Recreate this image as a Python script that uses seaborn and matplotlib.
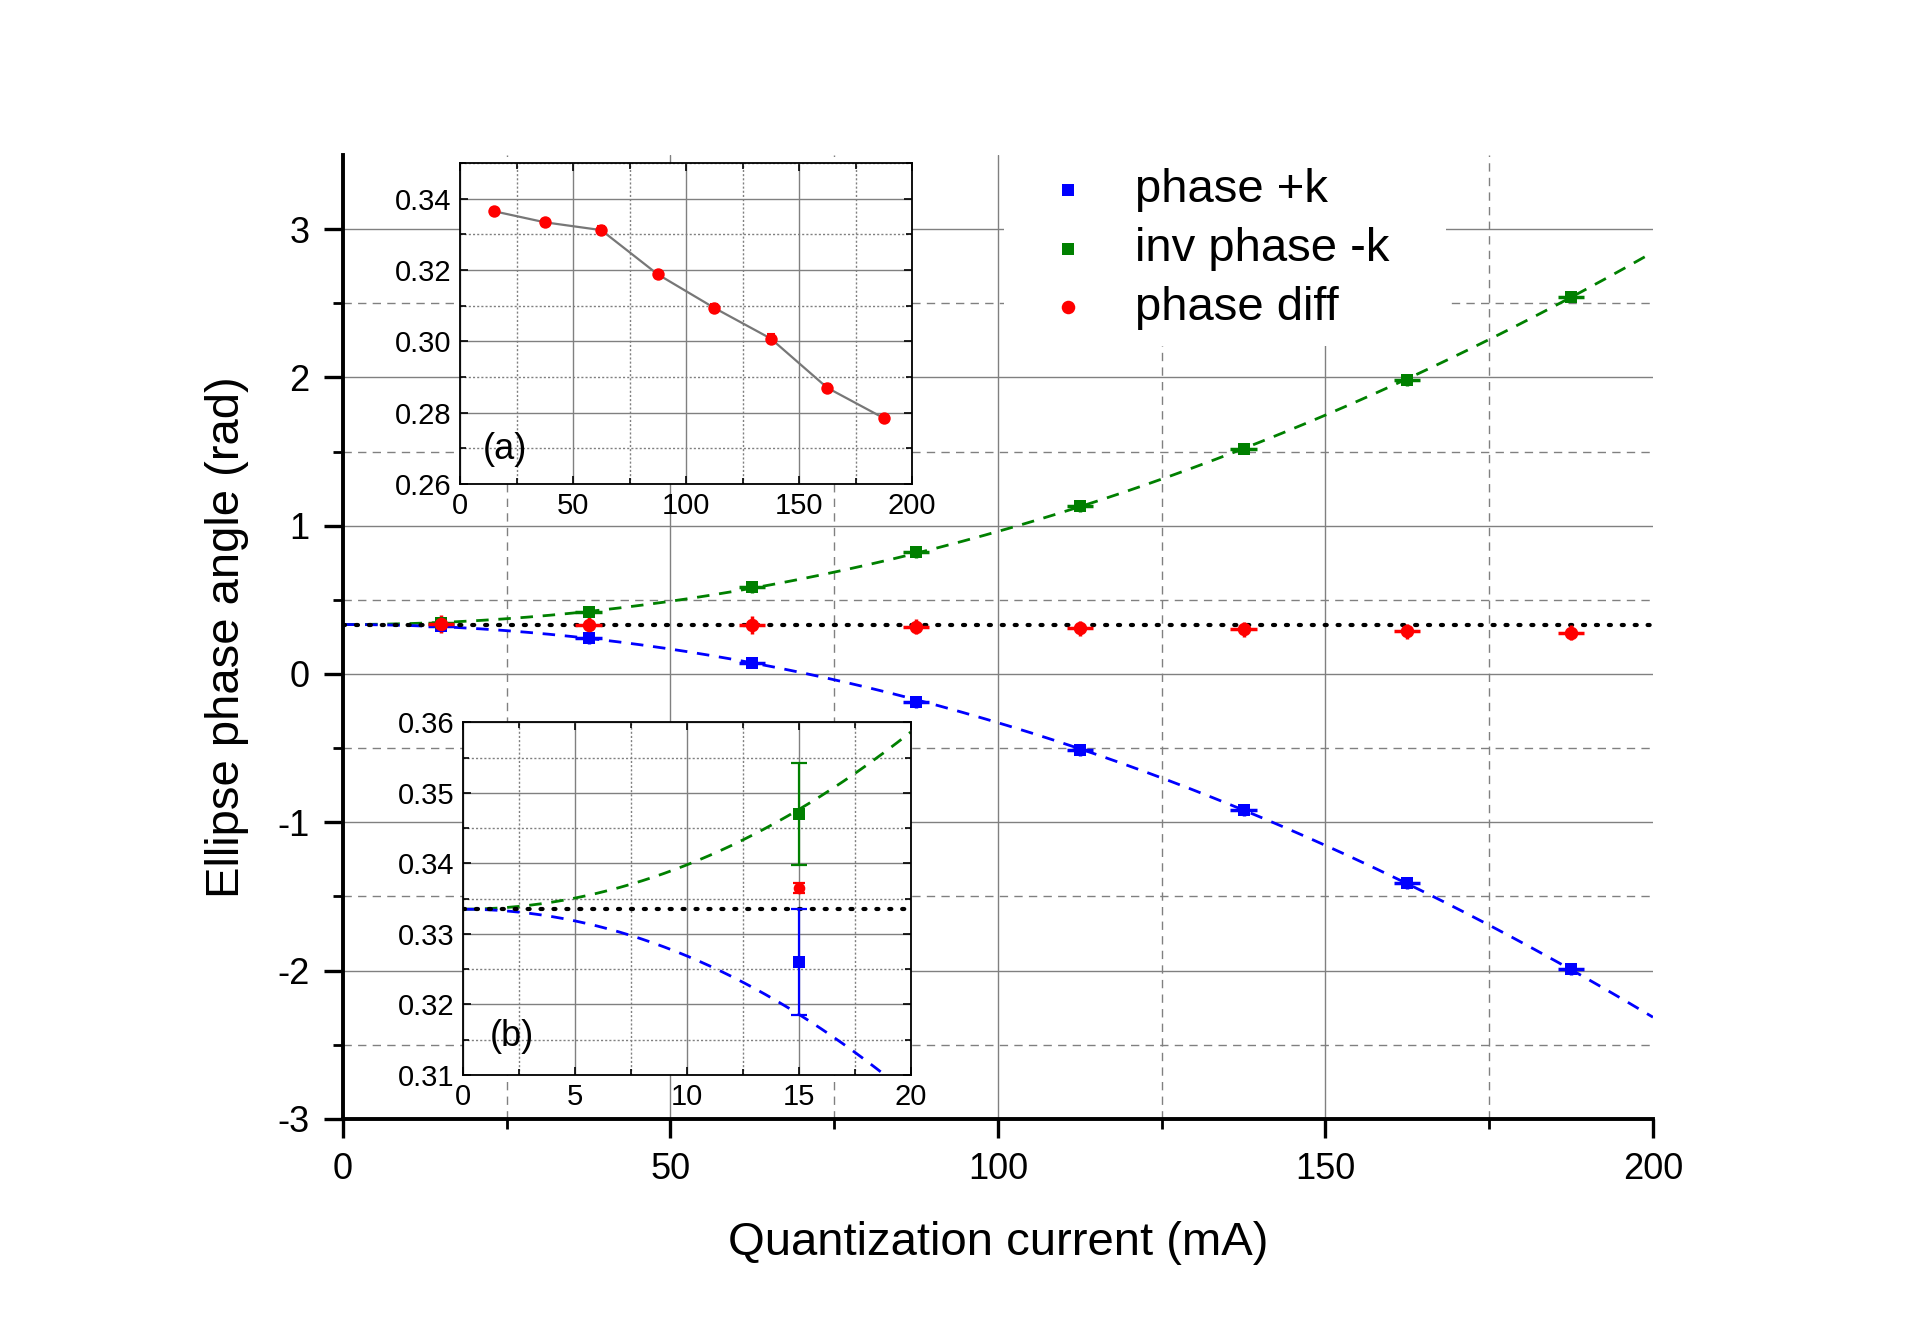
import numpy as np
import pandas as pd
import matplotlib
matplotlib.use("Agg")
import matplotlib.pyplot as plt
import seaborn as sns
from matplotlib.ticker import FixedLocator, FormatStrFormatter

# ---------------- data ----------------
current = [15, 37.5, 62.5, 87.5, 112.5, 137.5, 162.5, 187.5]
phase_pk = [0.326, 0.24, 0.077, -0.19, -0.51, -0.92, -1.41, -1.99]
inv_phase_mk = [0.347, 0.42, 0.585, 0.82, 1.13, 1.52, 1.98, 2.545]
phase_diff = [0.3365, 0.3334, 0.3312, 0.3188, 0.3094, 0.3008, 0.2870, 0.2785]
diff_err = [0.0008, 0.0010, 0.0012, 0.0010, 0.0012, 0.0012, 0.0010, 0.0008]
zero_level = 0.3335
main_xerr = [2, 2, 2, 2, 2, 2, 2, 2]
main_yerr_pk = [0.04, 0.04, 0.04, 0.04, 0.04, 0.04, 0.04, 0.04]
main_yerr_mk = [0.04, 0.04, 0.04, 0.04, 0.04, 0.04, 0.04, 0.04]
main_yerr_diff = [0.06, 0.06, 0.06, 0.05, 0.05, 0.05, 0.05, 0.05]
inset_b_yerr_pk = [0.0075]
inset_b_yerr_mk = [0.0072]
inset_b_yerr_diff = [0.0007]

labels = ["phase +k", "inv phase -k", "phase diff"]

# quadratic fits (y - zero_level = a x^2) via least squares
xa = np.asarray(current)
def fit_a(y):
    y = np.asarray(y) - zero_level
    return np.sum(xa**2 * y) / np.sum(xa**4)
a_pk = fit_a(phase_pk)
a_mk = fit_a(inv_phase_mk)
xf = np.linspace(0, 200, 401)
xf_b = np.linspace(0, 20, 201)

BLUE, GREEN, RED = "#0000FF", "#008000", "#FF0000"
GRID = "#808080"

sns.set_theme(style="white")
plt.rcParams["font.family"] = ["Liberation Sans", "DejaVu Sans"]
plt.rcParams["axes.unicode_minus"] = False
plt.rcParams["text.color"] = "black"
plt.rcParams["axes.labelcolor"] = "black"
plt.rcParams["xtick.color"] = "black"
plt.rcParams["ytick.color"] = "black"

fig = plt.figure(figsize=(19.2, 13.41), dpi=100)
ax = fig.add_axes([0.1786, 0.1656, 0.6823, 0.7189])
ax.set_facecolor("white")
ax.set_xlim(0, 200)
ax.set_ylim(-3, 3.5)
ax.xaxis.set_major_locator(FixedLocator([0, 50, 100, 150, 200]))
ax.xaxis.set_minor_locator(FixedLocator([25, 75, 125, 175]))
ax.yaxis.set_major_locator(FixedLocator([-3, -2, -1, 0, 1, 2, 3]))
ax.yaxis.set_minor_locator(FixedLocator([-2.5, -1.5, -0.5, 0.5, 1.5, 2.5]))
ax.grid(which="major", color=GRID, lw=1.0, ls="-", zorder=0)
ax.grid(which="minor", color=GRID, lw=1.0, ls=(0, (6, 4.5)), zorder=0)
ax.set_axisbelow(True)
for s in ["top", "right"]:
    ax.spines[s].set_visible(False)
for s in ["left", "bottom"]:
    ax.spines[s].set_color("black")
    ax.spines[s].set_linewidth(2.8)
ax.tick_params(which="major", direction="out", length=14, width=2.4,
               color="black", labelcolor="black", labelsize=26, pad=10,
               left=True, bottom=True)
ax.tick_params(which="minor", direction="out", length=7.5, width=2.0,
               color="black", left=True, bottom=True)

# fit curves
sns.lineplot(x=xf, y=zero_level + a_mk * xf**2, ax=ax, color=GREEN, lw=2.0,
             linestyle=(0, (4.5, 3.5)), zorder=2)
sns.lineplot(x=xf, y=zero_level + a_pk * xf**2, ax=ax, color=BLUE, lw=2.0,
             linestyle=(0, (4.5, 3.5)), zorder=2)
ax.axhline(zero_level, color="black", lw=3, ls=(0, (0.5, 2.6)),
           dash_capstyle="round", zorder=3)

ax.errorbar(current, phase_pk, yerr=main_yerr_pk, xerr=main_xerr, fmt="none",
            ecolor=BLUE, elinewidth=2.5, capsize=0, zorder=4)
ax.errorbar(current, inv_phase_mk, yerr=main_yerr_mk, xerr=main_xerr, fmt="none",
            ecolor=GREEN, elinewidth=2.5, capsize=0, zorder=4)
ax.errorbar(current, phase_diff, yerr=main_yerr_diff, xerr=main_xerr, fmt="none",
            ecolor=RED, elinewidth=2.5, capsize=0, zorder=4)
sns.scatterplot(x=current, y=phase_pk, ax=ax, marker="s", color=BLUE, s=85,
                edgecolor=BLUE, linewidth=0, label=labels[0], zorder=5)
sns.scatterplot(x=current, y=inv_phase_mk, ax=ax, marker="s", color=GREEN, s=85,
                edgecolor=GREEN, linewidth=0, label=labels[1], zorder=5)
sns.scatterplot(x=current, y=phase_diff, ax=ax, marker="o", color=RED, s=95,
                edgecolor=RED, linewidth=0, label=labels[2], zorder=5)

ax.set_xlabel("Quantization current (mA)", fontsize=34, color="black")
ax.set_ylabel("Ellipse phase angle (rad)", fontsize=34, color="black")
ax.xaxis.set_label_coords(0.5, -0.129)
ax.xaxis.label.set_va("center")
ax.yaxis.set_label_coords(-0.0885, 0.5)
ax.yaxis.label.set_va("center")

leg = ax.legend(loc="upper left", bbox_to_anchor=(0.5046, 0.0, 0.3374, 1.0030),
                mode="expand", fontsize=34,
                frameon=True, facecolor="white", edgecolor="none", framealpha=1,
                handlelength=2.03, handletextpad=0.41, borderpad=0.345,
                labelspacing=0.31, borderaxespad=0)
leg.set_zorder(6)
for t in leg.get_texts():
    t.set_color("black")

fig.canvas.draw()
for gl in ax.xaxis.get_gridlines():
    if np.isclose(gl.get_xdata()[0], 200):
        gl.set_visible(False)


def style_inset(axi):
    axi.set_facecolor("white")
    for s in axi.spines.values():
        s.set_visible(True)
        s.set_color("black")
        s.set_linewidth(1.3)
    axi.grid(which="major", color=GRID, lw=1.0, ls="-")
    axi.grid(which="minor", color=GRID, lw=1.0, ls=(0, (1.5, 1.5)))
    axi.set_axisbelow(True)
    axi.tick_params(which="both", direction="in", top=True, right=True,
                    left=True, bottom=True, color="black", width=1.2)
    axi.tick_params(which="major", length=6, labelsize=21, pad=6,
                    labelcolor="black")
    axi.tick_params(which="minor", length=4)


# ---------------- inset (a) ----------------
axa = fig.add_axes([0.2396, 0.639, 0.2354, 0.2394], zorder=10)
style_inset(axa)
axa.set_xlim(0, 200)
axa.set_ylim(0.26, 0.35)
axa.xaxis.set_major_locator(FixedLocator([0, 50, 100, 150, 200]))
axa.xaxis.set_minor_locator(FixedLocator([25, 75, 125, 175]))
axa.yaxis.set_major_locator(FixedLocator([0.26, 0.28, 0.30, 0.32, 0.34]))
axa.yaxis.set_minor_locator(FixedLocator([0.27, 0.29, 0.31, 0.33, 0.35]))
axa.yaxis.set_major_formatter(FormatStrFormatter("%.2f"))
sns.lineplot(x=current, y=phase_diff, ax=axa, color="#777777", lw=1.6, zorder=2)
axa.errorbar(current, phase_diff, yerr=diff_err, fmt="none", ecolor=RED,
             elinewidth=1.8, capsize=3, capthick=1.5, zorder=3)
sns.scatterplot(x=current, y=phase_diff, ax=axa, marker="o", color=RED, s=80,
                edgecolor=RED, linewidth=0, zorder=4, legend=False)
axa.set_xlabel("")
axa.set_ylabel("")
axa.text(0.05, 0.107, "(a)", transform=axa.transAxes, fontsize=26,
         ha="left", va="center", color="black")

# ---------------- inset (b) ----------------
axb = fig.add_axes([0.241, 0.1984, 0.2333, 0.263], zorder=10)
style_inset(axb)
axb.set_xlim(0, 20)
axb.set_ylim(0.31, 0.36)
axb.xaxis.set_major_locator(FixedLocator([0, 5, 10, 15, 20]))
axb.xaxis.set_minor_locator(FixedLocator([2.5, 7.5, 12.5, 17.5]))
axb.yaxis.set_major_locator(FixedLocator([0.31, 0.32, 0.33, 0.34, 0.35, 0.36]))
axb.yaxis.set_minor_locator(FixedLocator([0.315, 0.325, 0.335, 0.345, 0.355]))
axb.yaxis.set_major_formatter(FormatStrFormatter("%.2f"))
sns.lineplot(x=xf_b, y=zero_level + a_mk * xf_b**2, ax=axb, color=GREEN, lw=2.0,
             linestyle=(0, (4.5, 3.5)), zorder=2)
sns.lineplot(x=xf_b, y=zero_level + a_pk * xf_b**2, ax=axb, color=BLUE, lw=2.0,
             linestyle=(0, (4.5, 3.5)), zorder=2)
axb.axhline(zero_level, color="black", lw=3, ls=(0, (0.5, 2.6)),
            dash_capstyle="round", zorder=3)
axb.errorbar(current[:1], inv_phase_mk[:1], yerr=inset_b_yerr_mk, fmt="none",
             ecolor=GREEN, elinewidth=1.6, capsize=6, capthick=1.6, zorder=4)
axb.errorbar(current[:1], phase_pk[:1], yerr=inset_b_yerr_pk, fmt="none",
             ecolor=BLUE, elinewidth=1.6, capsize=6, capthick=1.6, zorder=4)
axb.errorbar(current[:1], phase_diff[:1], yerr=inset_b_yerr_diff, fmt="none",
             ecolor=RED, elinewidth=1.6, capsize=4, capthick=1.6, zorder=4)
sns.scatterplot(x=current[:1], y=inv_phase_mk[:1], ax=axb, marker="s", color=GREEN,
                s=70, edgecolor=GREEN, linewidth=0, zorder=5, legend=False)
sns.scatterplot(x=current[:1], y=phase_pk[:1], ax=axb, marker="s", color=BLUE,
                s=70, edgecolor=BLUE, linewidth=0, zorder=5, legend=False)
sns.scatterplot(x=current[:1], y=phase_diff[:1], ax=axb, marker="o", color=RED,
                s=70, edgecolor=RED, linewidth=0, zorder=5, legend=False)
axb.set_xlabel("")
axb.set_ylabel("")
axb.text(0.06, 0.108, "(b)", transform=axb.transAxes, fontsize=26,
         ha="left", va="center", color="black")

fig.savefig("out.png", dpi=100, facecolor="white")
